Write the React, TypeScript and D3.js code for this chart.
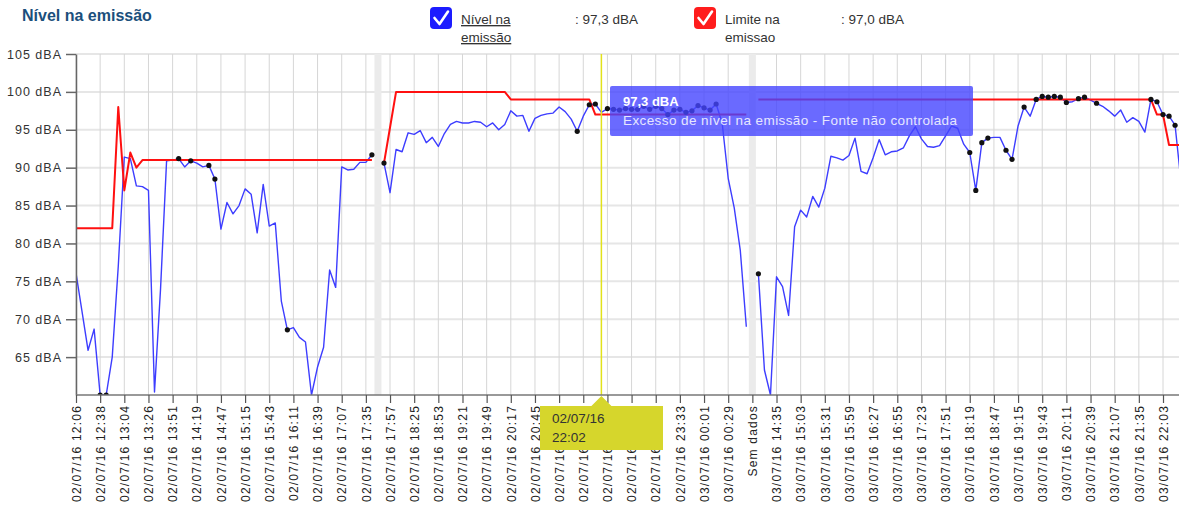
import React, { useEffect, useRef } from 'react';
import * as d3 from 'd3';

// nível na emissão (dBA), one value per measurement, null = sem dados
const nivel: (number | null)[] = [
  76.1, 71, 65.9, 68.7, 60, 60, 65, 77, 91.4, 91.2, 87.6, 87.5, 87.0, 60.4, 74, 90.9,
  91, 91.2, 90.1, 90.9, 90.6, 90.1, 90.3, 88.5, 81.9, 85.4, 83.9, 85, 87.2, 86.5, 81.4, 87.8,
  82.3, 82.7, 72.4, 68.6, 68.9, 67.6, 67, 60, 63.7, 66.3, 76.5, 74.2, 90.1, 89.7, 89.8, 90.7,
  90.7, 91.7, null, 90.6, 86.7, 92.4, 92.1, 94.6, 94.4, 94.9, 93.3, 94, 92.8, 94.5, 95.7, 96.1,
  95.9, 95.9, 96.1, 96, 95.4, 95.9, 95, 95.7, 97.5, 96.8, 96.9, 94.8, 96.5, 96.9, 97.1, 97.2,
  98, 97.4, 96.4, 94.8, 96.8, 98.3, 98.4, 97.3, 97.8, 97.7, 97.6, 97.8, 97.7, 97.7, 98.1, 97.7,
  98.1, 97.8, 97.0, 97.6, 97.7, 97.3, 97.5, 98.2, 97.9, 97.6, 98.4, 95.9, 88.6, 84.7, 79.1, 69,
  null, 76, 63.3, 60, 75.6, 74.3, 70.5, 82.2, 84.4, 83.5, 86.2, 84.8, 87.3, 91.5, 91.3, 91,
  91.6, 93.9, 89.5, 89.2, 91.3, 93.7, 91.7, 92.1, 92.2, 92.6, 94.2, 95.4, 93.8, 92.8, 92.7, 92.9,
  94.2, 95.5, 95.2, 93.1, 92, 87, 93.3, 93.9, 94, 94, 92.3, 91.1, 95.5, 98, 96.8, 99,
  99.4, 99.3, 99.4, 99.3, 98.6, 98.7, 99.1, 99.3, 98.9, 98.5, 98.1, 97.5, 96.8, 97.6, 96, 96.6,
  96.1, 94.7, 99, 98.7, 97, 96.8, 95.6, 88,
];

// limite na emissão (dBA)
const limite: (number | null)[] = [
  82, 82, 82, 82, 82, 82, 82, 98, 87, 92, 90, 91, 91, 91, 91, 91,
  91, 91, 91, 91, 91, 91, 91, 91, 91, 91, 91, 91, 91, 91, 91, 91,
  91, 91, 91, 91, 91, 91, 91, 91, 91, 91, 91, 91, 91, 91, 91, 91,
  91, 91, null, 90.6, 95.3, 100, 100, 100, 100, 100, 100, 100, 100, 100, 100, 100,
  100, 100, 100, 100, 100, 100, 100, 100, 99, 99, 99, 99, 99, 99, 99, 99,
  99, 99, 99, 99, 99, 99, 97, 97, 97, 97, 97, 97, 97, 97, 97, 97,
  97, 97, 97, 97, 97, 97, 97, 97, 97, 97, 97, 97, 97, 97, 97, 97,
  null, 99, 99, 99, 99, 99, 99, 99, 99, 99, 99, 99, 99, 99, 99, 99,
  99, 99, 99, 99, 99, 99, 99, 99, 99, 99, 99, 99, 99, 99, 99, 99,
  99, 99, 99, 99, 99, 99, 99, 99, 99, 99, 99, 99, 99, 99, 99, 99,
  99, 99, 99, 99, 99, 99, 99, 99, 99, 99, 99, 99, 99, 99, 99, 99,
  99, 99, 99, 97, 97, 93, 93, 93,
];

// measurements flagged as events (black dots)
const eventos: number[] = [
  4, 5, 17, 19, 22, 23, 35, 49, 51, 83, 85, 86,
  88, 89, 90, 91, 92, 93, 94, 95, 96, 97, 98, 99, 100, 101, 102, 103, 104, 105, 106,
  113, 148, 149, 150, 151, 154, 155, 157, 159, 160, 161, 162, 163, 164, 166, 167, 169,
  178, 179, 180, 181, 182,
];

const tickLabels: string[] = [
  '02/07/16 12:06', '02/07/16 12:38', '02/07/16 13:04', '02/07/16 13:26', '02/07/16 13:51',
  '02/07/16 14:19', '02/07/16 14:47', '02/07/16 15:15', '02/07/16 15:43', '02/07/16 16:11',
  '02/07/16 16:39', '02/07/16 17:07', '02/07/16 17:35', '02/07/16 17:57', '02/07/16 18:25',
  '02/07/16 18:53', '02/07/16 19:21', '02/07/16 19:49', '02/07/16 20:17', '02/07/16 20:45',
  '02/07/16 21:13', '02/07/16 21:41', '02/07/16 22:09', '02/07/16 22:37', '02/07/16 23:05',
  '02/07/16 23:33', '03/07/16 00:01', '03/07/16 00:29', 'Sem dados', '03/07/16 14:35',
  '03/07/16 15:03', '03/07/16 15:31', '03/07/16 15:59', '03/07/16 16:27', '03/07/16 16:55',
  '03/07/16 17:23', '03/07/16 17:51', '03/07/16 18:19', '03/07/16 18:47', '03/07/16 19:15',
  '03/07/16 19:43', '03/07/16 20:11', '03/07/16 20:39', '03/07/16 21:07', '03/07/16 21:35',
  '03/07/16 22:03',
];

const yTicks = [65, 70, 75, 80, 85, 90, 95, 100, 105];
const pointsPerTick = 4;
const hoverIdx = 87;
const tipValue = '97,3 dBA';
const tipText = 'Excesso de nível na emissão - Fonte não controlada';
const tipTime = ['02/07/16', '22:02'];

const legend = [
  { lines: ['Nível na', 'emissão'], value: ': 97,3 dBA', color: '#1c1cff', link: true },
  { lines: ['Limite na', 'emissao'], value: ': 97,0 dBA', color: '#ff1c1c', link: false },
];

const FONT = '"Liberation Sans", Arial, sans-serif';

const App = () => {
  const svgRef = useRef<SVGSVGElement>(null);

  useEffect(() => {
    const width = 1179;
    const height = 507;
    const left = 76;
    const top = 54;
    const bottom = 395;

    const svg = d3.select(svgRef.current).attr('width', width).attr('height', height);
    svg.selectAll('*').remove();
    svg.style('font-family', FONT);

    const lastTick = (tickLabels.length - 1) * pointsPerTick;
    const x = d3.scaleLinear().domain([0, lastTick]).range([left, 1163]);
    const y = d3.scaleLinear().domain([60, 105]).range([bottom, top]);
    const tickIdx = tickLabels.map((_, i) => i * pointsPerTick);

    svg.append('defs').append('clipPath').attr('id', 'plotclip')
      .append('rect').attr('x', left).attr('y', top - 5).attr('width', width - left).attr('height', bottom - top + 5);

    // grid
    const grid = svg.append('g');
    grid.selectAll('.hg').data(yTicks).enter().append('line')
      .attr('x1', left).attr('x2', width).attr('y1', d => y(d)).attr('y2', d => y(d))
      .attr('stroke', '#e6e6e6').attr('stroke-width', 2);
    grid.selectAll('.vg').data(tickIdx).enter().append('line')
      .attr('x1', d => x(d)).attr('x2', d => x(d)).attr('y1', top).attr('y2', bottom)
      .attr('stroke', '#d6d6d6').attr('stroke-width', 1);

    // sem dados bands
    const gaps = nivel.map((v, i) => (v == null ? i : -1)).filter(i => i >= 0);
    grid.selectAll('.gap').data(gaps).enter().append('rect')
      .attr('x', d => x(d) - 3.5).attr('width', 7).attr('y', top).attr('height', bottom - top)
      .attr('fill', '#ebebeb');

    const plot = svg.append('g').attr('clip-path', 'url(#plotclip)');

    const line = d3.line<number | null>()
      .defined(d => d != null)
      .x((_, i) => x(i))
      .y(d => y(d as number));

    plot.append('path').datum(nivel).attr('d', line)
      .attr('fill', 'none').attr('stroke', '#3d3dff').attr('stroke-width', 1.4)
      .attr('stroke-linejoin', 'round');

    plot.append('path').datum(limite).attr('d', line)
      .attr('fill', 'none').attr('stroke', '#ff1010').attr('stroke-width', 2)
      .attr('stroke-linejoin', 'round');

    plot.selectAll('.dot').data(eventos).enter().append('circle')
      .attr('cx', d => x(d)).attr('cy', d => y(nivel[d] as number)).attr('r', 2.6)
      .attr('fill', '#111');

    // hover line
    svg.append('line')
      .attr('x1', x(hoverIdx)).attr('x2', x(hoverIdx)).attr('y1', top).attr('y2', bottom)
      .attr('stroke', '#e2e21a').attr('stroke-width', 1.5);

    // y axis
    const yAxis = svg.append('g').attr('transform', `translate(${left},0)`)
      .call(d3.axisLeft(y).tickValues(yTicks).tickFormat(d => `${d} dBA`).tickSize(10).tickSizeOuter(0).tickPadding(4));
    yAxis.selectAll('path, line').attr('stroke', '#666').attr('stroke-width', 1.5);
    yAxis.selectAll('text').attr('fill', '#333').style('font-size', '12.5px')
      .style('letter-spacing', '1px').style('font-family', FONT);

    // x axis
    svg.append('line').attr('x1', left).attr('x2', width).attr('y1', bottom).attr('y2', bottom)
      .attr('stroke', '#777').attr('stroke-width', 1.5);
    const xAxis = svg.append('g').attr('transform', `translate(0,${bottom})`)
      .call(d3.axisBottom(x).tickValues(tickIdx).tickFormat(d => tickLabels[(d as number) / pointsPerTick]).tickSize(8).tickSizeOuter(0));
    xAxis.select('.domain').remove();
    xAxis.selectAll('line').attr('stroke', '#555').attr('stroke-width', 1.2);
    xAxis.selectAll('text')
      .attr('transform', 'rotate(-90)')
      .attr('x', -10).attr('y', 0).attr('dy', '0.35em')
      .style('text-anchor', 'end').attr('fill', '#222')
      .style('font-size', '12px').style('letter-spacing', '1.2px').style('font-family', FONT);

    // tooltip over plot
    const tip = svg.append('g');
    tip.append('rect').attr('x', 610).attr('y', 86).attr('width', 363).attr('height', 50).attr('rx', 2)
      .attr('fill', '#4545ff').attr('opacity', 0.8);
    tip.append('text').attr('x', 623).attr('y', 106).text(tipValue)
      .attr('fill', '#fff').style('font-size', '13px').style('font-weight', 'bold');
    tip.append('text').attr('x', 623).attr('y', 125).text(tipText)
      .attr('fill', '#e6e6ff').style('font-size', '13.5px').style('letter-spacing', '0.4px');

    // time tooltip on axis
    const tt = svg.append('g');
    const hx = x(hoverIdx);
    tt.append('path')
      .attr('d', `M${hx},${bottom + 1}L${hx + 10},${bottom + 11}L663,${bottom + 11}L663,450L540,450L540,${bottom + 11}L${hx - 10},${bottom + 11}Z`)
      .attr('fill', '#d6d62c');
    tipTime.forEach((t, i) => {
      tt.append('text').attr('x', 552).attr('y', 423 + i * 19).text(t)
        .attr('fill', '#333').style('font-size', '13.5px');
    });

    // title
    svg.append('text').attr('x', 22).attr('y', 21).text('Nível na emissão')
      .attr('fill', '#1b4f7c').style('font-size', '16px').style('font-weight', 'bold');

    // legend
    const lg = svg.selectAll('.lg').data(legend).enter().append('g')
      .attr('transform', (_, i) => `translate(${430 + i * 264},7)`);
    lg.append('rect').attr('width', 22).attr('height', 22).attr('rx', 4).attr('fill', d => d.color);
    lg.append('path').attr('d', 'M4.5,11 L9.5,17 L18,4.5').attr('fill', 'none')
      .attr('stroke', '#fff').attr('stroke-width', 2.6).attr('stroke-linecap', 'round').attr('stroke-linejoin', 'round');
    lg.each(function (d) {
      const g = d3.select(this);
      d.lines.forEach((l, i) => {
        g.append('text').attr('x', 31).attr('y', 17 + i * 18).text(l)
          .attr('fill', '#333').style('font-size', '13.5px')
          .style('text-decoration', d.link ? 'underline' : 'none');
      });
      g.append('text').attr('x', d.link ? 145 : 147).attr('y', 17).text(d.value)
        .attr('fill', '#333').style('font-size', '13.5px');
    });
  }, []);

  return (
    <div style={{ position: 'absolute', left: 0, top: 0 }}>
      <svg ref={svgRef}></svg>
    </div>
  );
};

export default App;
